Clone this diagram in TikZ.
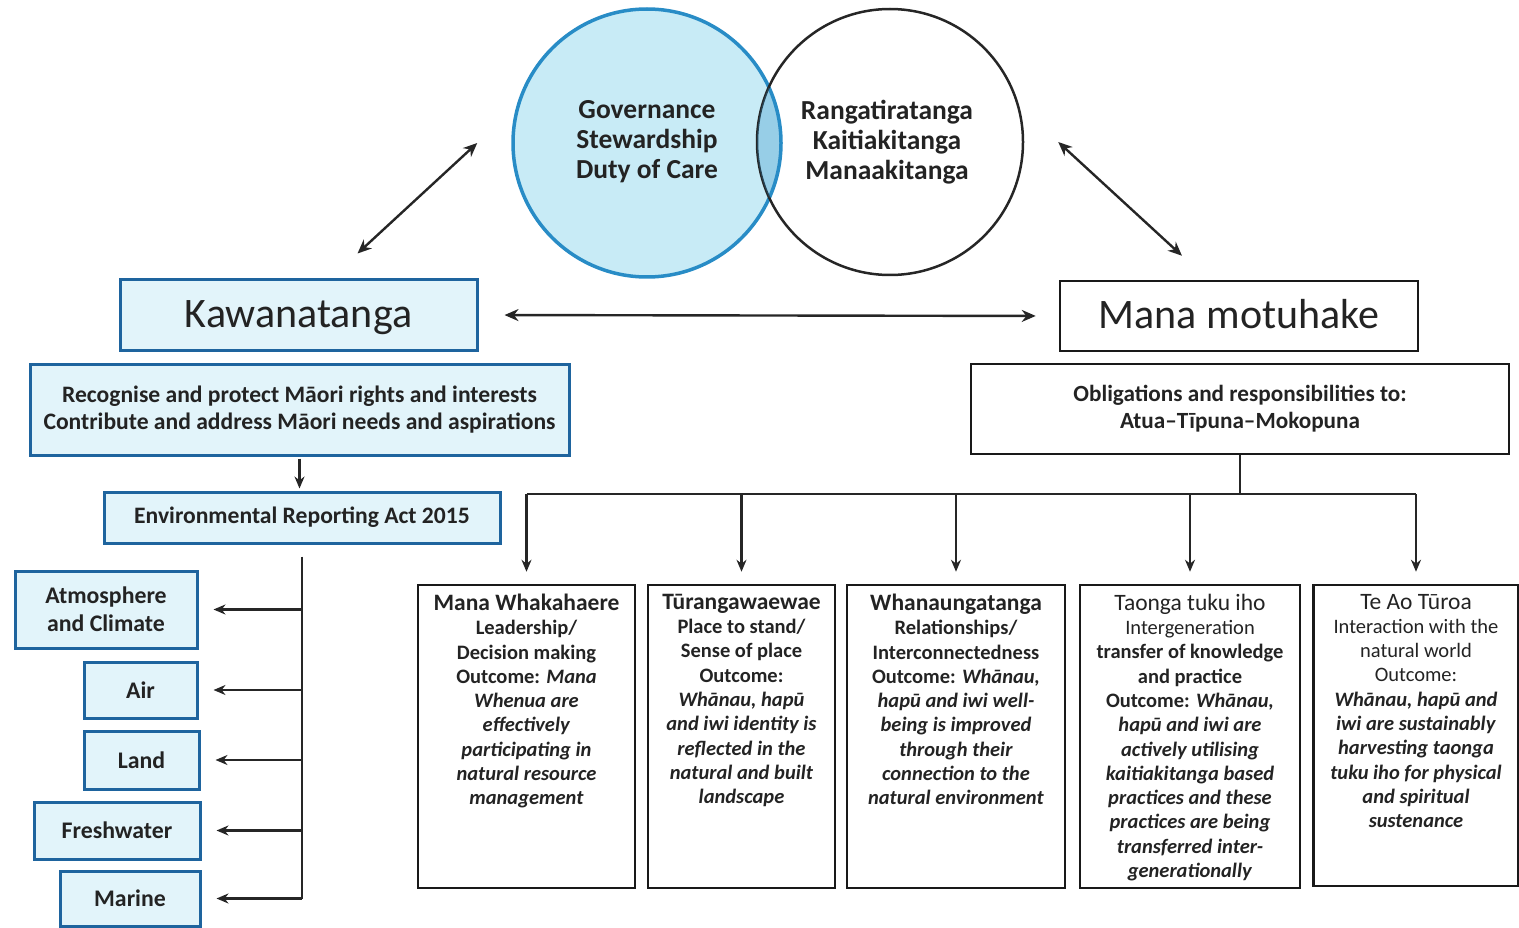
\documentclass[tikz,border=0pt]{standalone}
\usepackage{fontspec}
\setmainfont{Carlito}
\usepackage{tikz}
\usetikzlibrary{arrows.meta, positioning, calc}
\definecolor{kBlue}{RGB}{30,100,158}
\definecolor{kFill}{RGB}{226,244,250}
\definecolor{cBlue}{RGB}{40,140,198}
\definecolor{cFill}{RGB}{200,235,246}
\definecolor{ink}{RGB}{35,35,35}
\tikzset{
	gcirc/.style  ={circle, draw=cBlue, line width=3.5pt, fill=cFill, minimum size=268pt, inner sep=0pt},
	rcirc/.style  ={circle, draw=black!85, line width=2.5pt, minimum size=266pt, inner sep=0pt},
	ctext/.style  ={align=center, font=\fontsize{27.5}{30}\selectfont\bfseries, text=ink},
	bluebox/.style={rectangle, draw=kBlue, line width=3pt, fill=kFill, align=center, text=ink, inner sep=0pt},
	blackbox/.style={rectangle, draw=black!90, line width=2.5pt, fill=white, align=center, text=ink, inner sep=0pt},
	headtext/.style={font=\fontsize{42}{46}\selectfont, text height=28pt, text depth=4pt},
	colbox/.style ={rectangle, draw=black!90, line width=2.5pt, minimum height=303pt, inner sep=0pt},
	coltext/.style={align=center, inner sep=0pt, text=ink, font=\fontsize{20.5}{24.3}\selectfont\bfseries},
	dblarr/.style ={{Stealth[length=14pt,width=12pt]}-{Stealth[length=14pt,width=12pt]}, line width=2.4pt, black!85},
	arr/.style    ={-{Stealth[length=12pt,width=10pt]}, line width=2.2pt, black!85},
	bar/.style    ={line width=2.2pt, black!85},
}
\newcommand{\ttl}[1]{{\fontsize{23.5}{26}\selectfont #1}}
\begin{document}
\begin{tikzpicture}[x=1pt, y=-1pt]
	\useasboundingbox (0,0) rectangle (1519,928);
	% venn
	\node[gcirc] (gov) at (647,143) {};
	\node[rcirc] (ranga) at (890,142) {};
	\begin{scope}
		\clip (gov.center) circle [radius=134];
		\fill[cBlue, opacity=0.3] (ranga.center) circle [radius=133];
	\end{scope}
	\node[ctext] (govt) at (647,142) {Governance\\Stewardship\\Duty of Care};
	\node[ctext] (rangat) at (887,142) {Rangatiratanga\\Kaitiakitanga\\Manaakitanga};

	% the two sides
	\node[bluebox, headtext, minimum width=357pt, minimum height=70pt] (kawa) at (298.5,315) {Kawanatanga};
	\node[blackbox, headtext, minimum width=358pt, minimum height=70pt] (mana) at (1239,316) {Mana motuhake};
	\draw[dblarr, shorten <=26pt, shorten >=23pt] (kawa.east) -- (mana.west);

	\coordinate (g1) at ($(gov.west)+(-34,0)$);
	\coordinate (k1) at ($(kawa.north)+(59,-25)$);
	\draw[dblarr] (g1) -- (k1);
	\coordinate (r1) at ($(ranga.east)+(34,0)$);
	\coordinate (m1) at ($(mana.north)+(-57,-24)$);
	\draw[dblarr] (r1) -- (m1);

	\node[bluebox, minimum width=539pt, minimum height=91pt, font=\fontsize{23.6}{26.5}\selectfont\bfseries] (recog) at (299.5,409.5)
		{Recognise and protect Māori rights and interests\\Contribute and address Māori needs and aspirations};
	\node[blackbox, minimum width=538pt, minimum height=90pt, font=\fontsize{23.2}{27}\selectfont\bfseries] (oblig) at (1240,409)
		{Obligations and responsibilities to:\\Atua–Tīpuna–Mokopuna};

	% left: reporting domains
	\node[bluebox, minimum width=396pt, minimum height=51pt, font=\fontsize{23.6}{26}\selectfont\bfseries] (era) at (302,517.5) {Environmental Reporting Act 2015};
	\draw[arr, shorten <=2pt, shorten >=2pt] (recog.south) -- (recog.south |- era.north);

	\tikzset{dom/.style={bluebox, minimum height=#1, font=\fontsize{23.8}{28}\selectfont\bfseries}}
	\node[dom=77pt, minimum width=182pt] (atmos) at (106,609.5) {Atmosphere\\and Climate};
	\node[dom=56pt, minimum width=113pt] (air) at (140.5,690) {Air};
	\node[dom=58pt, minimum width=115pt] (land) at (141.5,760) {Land};
	\node[dom=57pt, minimum width=166pt] (fresh) at (117,830.5) {Freshwater};
	\node[dom=55pt, minimum width=140pt] (marine) at (130,898.5) {Marine};

	\coordinate (trunk) at ($(era.south)+(0,12)$);
	\draw[bar] (trunk) -- (trunk |- marine.east);
	\foreach \d in {atmos,air,land,fresh,marine}
		\draw[arr, shorten >=15pt] (trunk |- \d.east) -- (\d.east);

	% right: outcome columns
	\node[colbox, minimum width=217pt] (b1) at (526.5,736.5) {};
	\node[colbox, minimum width=187pt] (b2) at (741.5,736.5) {};
	\node[colbox, minimum width=218pt] (b3) at (956,736.5) {};
	\node[colbox, minimum width=220pt] (b4) at (1190,736.5) {};
	\node[colbox, minimum width=205pt, minimum height=301pt] (b5) at (1416,735.5) {};

	\node[coltext, below=10pt of b1.north] (b1t) {\ttl{Mana Whakahaere}\\Leadership/\\Decision making\\Outcome: \textit{Mana}\\\textit{Whenua are}\\\textit{effectively}\\\textit{participating in}\\\textit{natural resource}\\\textit{management}};
	\node[coltext, below=10pt of b2.north] (b2t) {\ttl{Tūrangawaewae}\\Place to stand/\\Sense of place\\Outcome:\\\textit{Whānau, hapū}\\\textit{and iwi identity is}\\\textit{reflected in the}\\\textit{natural and built}\\\textit{landscape}};
	\node[coltext, below=10pt of b3.north] (b3t) {\ttl{Whanaungatanga}\\Relationships/\\Interconnectedness\\Outcome: \textit{Whānau,}\\\textit{hapū and iwi well-}\\\textit{being is improved}\\\textit{through their}\\\textit{connection to the}\\\textit{natural environment}};
	\node[coltext, below=10pt of b4.north] (b4t) {\ttl{\mdseries Taonga tuku iho}\\{\mdseries Intergeneration}\\transfer of knowledge\\and practice\\Outcome: \textit{Whānau,}\\\textit{hapū and iwi are}\\\textit{actively utilising}\\\textit{kaitiakitanga based}\\\textit{practices and these}\\\textit{practices are being}\\\textit{transferred inter-}\\\textit{generationally}};
	\node[coltext, below=10pt of b5.north] (b5t) {\ttl{\mdseries Te Ao Tūroa}\\{\mdseries Interaction with the}\\{\mdseries natural world}\\{\mdseries Outcome:}\\\textit{Whānau, hapū and}\\\textit{iwi are sustainably}\\\textit{harvesting taonga}\\\textit{tuku iho for physical}\\\textit{and spiritual}\\\textit{sustenance}};

	\draw[bar] (oblig.south) -- ++(0,39) coordinate (hub);
	\draw[bar] (b1.north |- hub) -- (b5.north |- hub);
	\foreach \b in {b1,b2,b3,b4,b5}
		\draw[arr, shorten >=12pt] (\b.north |- hub) -- (\b.north);
\end{tikzpicture}
\end{document}
